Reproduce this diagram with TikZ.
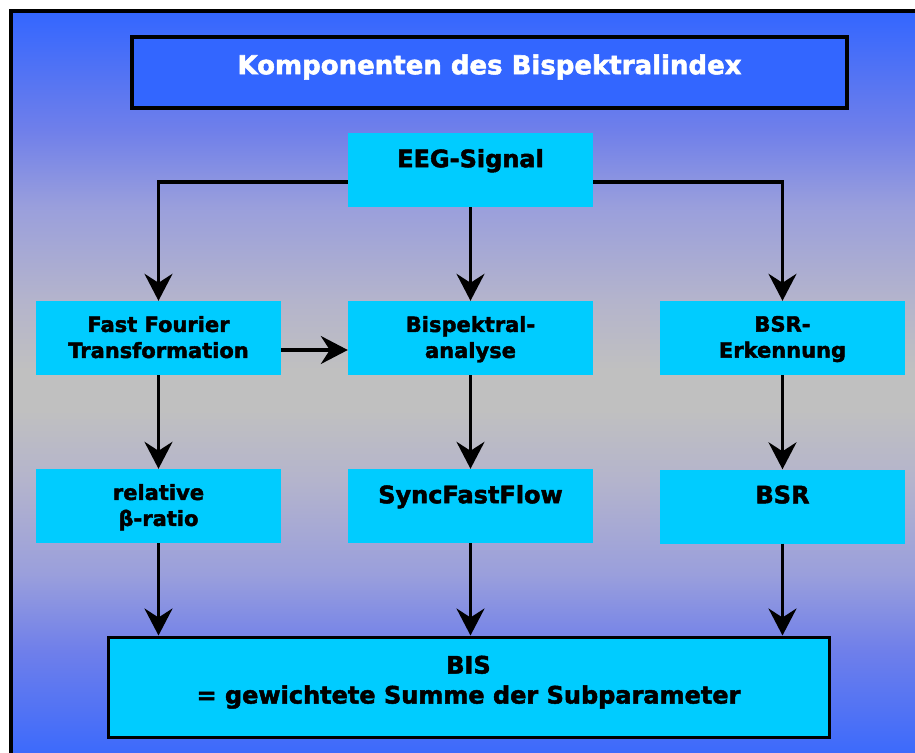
\documentclass[tikz,border=0pt]{standalone}
\usepackage{fontspec}
\setmainfont{DejaVu Sans}
\newfontfamily\heavyfont{DejaVu Sans Bold}[FakeBold=2]
\usetikzlibrary{arrows.meta,calc}
\definecolor{bisblue}{HTML}{3366FF}
\definecolor{biscyan}{HTML}{00CCFF}
\definecolor{bisgray}{HTML}{C0C0C0}
\definecolor{bgA}{HTML}{3366FF}
\definecolor{bgB}{HTML}{6F7FEA}
\definecolor{bgC}{HTML}{9A9FDC}
\definecolor{bgD}{HTML}{B4B4CC}
\definecolor{bgE}{HTML}{C0C0C0}
\pgfdeclareverticalshading{bgshade}{100bp}{%
  color(0bp)=(bgA); color(25bp)=(bgA); color(33bp)=(bgB); color(38bp)=(bgC);
  color(44.2bp)=(bgD); color(48.8bp)=(bgE); color(51.4bp)=(bgE); color(56bp)=(bgD);
  color(62.1bp)=(bgC); color(67.2bp)=(bgB); color(75bp)=(bgA); color(100bp)=(bgA)}
\begin{document}
\begin{tikzpicture}[x=1pt,y=-1pt,
  box/.style={fill=biscyan, minimum width=245pt, minimum height=74pt, inner sep=0pt},
  txt/.style={font=\heavyfont\fontsize{21}{26}\selectfont, align=center, inner sep=0pt, anchor=north},
  bigtxt/.style={font=\heavyfont\fontsize{24}{30}\selectfont, align=center, inner sep=0pt, anchor=north},
  arr/.style={line width=3.1pt, -{Stealth[length=27pt,width=28pt,inset=9pt]}}]
\useasboundingbox (0,0) rectangle (915,752);
\begin{scope}
  \clip (0,0) rectangle (915,752);
  \path[shading=bgshade] (11,11) rectangle (935,772);
  \draw[line width=3.2pt] (11,772) -- (11,11) -- (935,11);
\end{scope}
% title
\node[draw=black, line width=3.5pt, fill=bisblue, minimum width=715pt, minimum height=71pt, inner sep=0pt] (title) at (489.5,72.5) {};
\node[bigtxt, text=white, font=\heavyfont\fontsize{26}{31}\selectfont] (titleT) at ([yshift=-19pt]title.north) {Komponenten des Bispektralindex};
% boxes
\node[box] (eeg) at (470.5,170) {};
\node[box] (fft) at (158.5,338) {};
\node[box] (bsa) at (470.5,338) {};
\node[box] (bsre) at (782.5,338) {};
\node[box] (rbr) at (158.5,506) {};
\node[box] (sff) at (470.5,506) {};
\node[box] (bsr) at (782.5,506.5) {};
\node[draw=black, line width=3pt, fill=biscyan, minimum width=721pt, minimum height=100pt, inner sep=0pt] (bis) at (468.5,687) {};
% texts
\node[bigtxt] (eegT) at ([yshift=-16pt]eeg.north) {EEG-Signal};
\node[txt] (fftT) at ([yshift=-15pt]fft.north) {Fast Fourier\\Transformation};
\node[txt] (bsaT) at ([yshift=-15pt]bsa.north) {Bispektral-\\analyse};
\node[txt] (bsreT) at ([yshift=-15pt]bsre.north) {BSR-\\Erkennung};
\node[txt] (rbrT) at ([yshift=-15pt]rbr.north) {relative\\β-ratio};
\node[bigtxt] (sffT) at ([yshift=-16pt]sff.north) {SyncFastFlow};
\node[bigtxt] (bsrT) at ([yshift=-16pt]bsr.north) {BSR};
\node[bigtxt] (bisT) at ([yshift=-20pt]bis.north) {BIS\\= gewichtete Summe der Subparameter};
% arrows
\draw[arr] ([yshift=-12pt]eeg.west) -| (fft.north);
\draw[arr] (eeg.south) -- (bsa.north);
\draw[arr] ([yshift=-12pt]eeg.east) -| (bsre.north);
\draw[arr] ([yshift=-12pt]fft.east) -- ([yshift=-12pt]bsa.west);
\draw[arr] (fft.south) -- (rbr.north);
\draw[arr] (bsa.south) -- (sff.north);
\draw[arr] (bsre.south) -- (bsr.north);
\draw[arr] (rbr.south) -- (rbr.south |- bis.north);
\draw[arr] (sff.south) -- (sff.south |- bis.north);
\draw[arr] (bsr.south) -- (bsr.south |- bis.north);
\end{tikzpicture}
\end{document}
